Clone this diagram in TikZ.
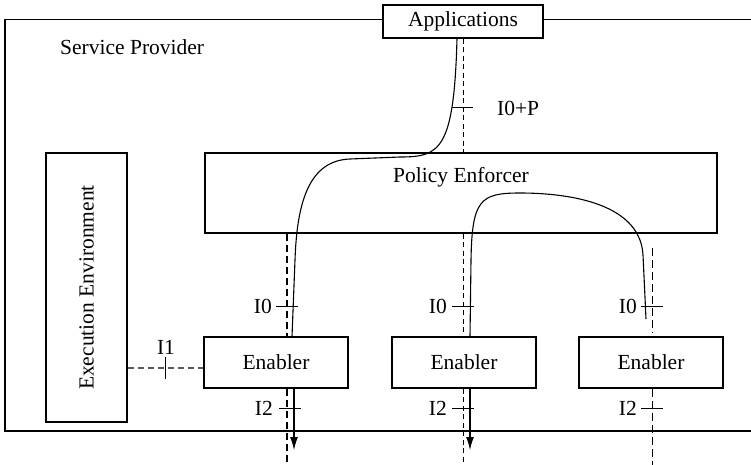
\documentclass[tikz,border=0pt]{standalone}
\usepackage{fontspec}
\setmainfont{Liberation Serif}
\usetikzlibrary{arrows.meta}
\begin{document}
\begin{tikzpicture}[x=1pt,y=-1pt,
  txt/.style={inner sep=0pt, font=\fontsize{21.5}{24}\selectfont},
  box/.style={draw, line width=1.1pt, fill=white, inner sep=0pt, txt},
  link/.style={line width=1.1pt},
  tick/.style={line width=1pt},
  thindash/.style={line width=1pt, dash pattern=on 5pt off 3.5pt},
  longdash/.style={line width=1pt, dash pattern=on 8pt off 4pt},
  thickdash/.style={line width=2pt, dash pattern=on 7pt off 4pt},
  greydash/.style={line width=1.1pt, draw=black!65, dash pattern=on 6pt off 4pt},
  tip/.style={-{Latex[length=13pt,width=8pt]}}
]
\useasboundingbox (0,0) rectangle (751,465);

% service provider frame, open to the right
\draw[line width=1.3pt] (751,19.5) -- (5,19.5) -- (5,431) -- (751,431);
\node[txt, anchor=west] (sp) at (60,47) {Service Provider};

% boxes
\node[box, minimum width=160pt, minimum height=33pt] (app) at (463,21.5) {Applications};
\node[box, minimum width=512pt, minimum height=80pt] (pe) at (461,193) {};
\node[txt] (petext) at (461,177) {Policy Enforcer};
\node[box, minimum width=81pt, minimum height=269pt] (ee) at (86.5,287.5) {};
\node[txt, rotate=90] (eetext) at (ee) {Execution Environment};
\node[box, minimum width=144pt, minimum height=51pt] (en1) at (276,362.5) {Enabler};
\node[box, minimum width=144pt, minimum height=51pt] (en2) at (464,362.5) {Enabler};
\node[box, minimum width=144pt, minimum height=51pt] (en3) at (651,362.5) {Enabler};

% reference columns
\coordinate (bot) at (0,465);
\coordinate (c0) at (463,0);
\coordinate (c1) at (287,0);
\coordinate (c2) at (463,0);
\coordinate (c3) at (652,0);
\coordinate (s1) at (294,0);
\coordinate (s2) at (470,0);
\coordinate (ci1) at (0,368);

% interface lines
\draw[thindash] (app.south -| c0) -- (pe.north -| c0);
\draw[thickdash] (pe.south -| c1) -- (en1.north -| c1);
\draw[thickdash] (en1.south -| c1) -- (bot -| c1);
\draw[thindash] (pe.south -| c2) -- (en2.north -| c2);
\draw[thindash] (en2.south -| c2) -- (bot -| c2);
\draw[longdash] ([yshift=-14pt]pe.south -| c3) -- ([yshift=4pt]en3.north -| c3);
\draw[longdash] (en3.south -| c3) -- (bot -| c3);
\draw[greydash] (ee.east |- ci1) -- (en1.west |- ci1);

% message flows
\draw[link] (app.south -| 457,0) .. controls (454,150) and (440,157) .. (400,157)
  -- (350,159) .. controls (310,160.5) and (297,200) .. (295,260) -- (en1.north -| 292,0);
\draw[link, tip] (en1.south -| s1) -- (294,450);
\draw[link] (en2.north -| s2) -- (471,260) .. controls (472,200) and (480,193) .. (520,193)
  .. controls (560,193) and (640,200) .. (643,255) -- (646,319);
\draw[link, tip] (en2.south -| s2) -- (470,450);

% interface ticks and labels
\draw[tick] (452,108) -- (473,108);
\node[txt, anchor=west] (l0p) at (497,108) {I0+P};
\draw[tick] (276,306) -- (298,306);
\node[txt, anchor=east] (l01) at (272,306) {I0};
\draw[tick] (279,408) -- (301,408);
\node[txt, anchor=east] (l21) at (273,408) {I2};
\draw[tick] (452,306) -- (474,306);
\node[txt, anchor=east] (l02) at (447,306) {I0};
\draw[tick] (452,408) -- (474,408);
\node[txt, anchor=east] (l22) at (447,408) {I2};
\draw[tick] (641,306) -- (663,306);
\node[txt, anchor=east] (l03) at (637,306) {I0};
\draw[tick] (641,408) -- (663,408);
\node[txt, anchor=east] (l23) at (637,408) {I2};
\draw[tick] (165,357) -- (165,379);
\node[txt] (l1) at (166,347) {I1};
\end{tikzpicture}
\end{document}
